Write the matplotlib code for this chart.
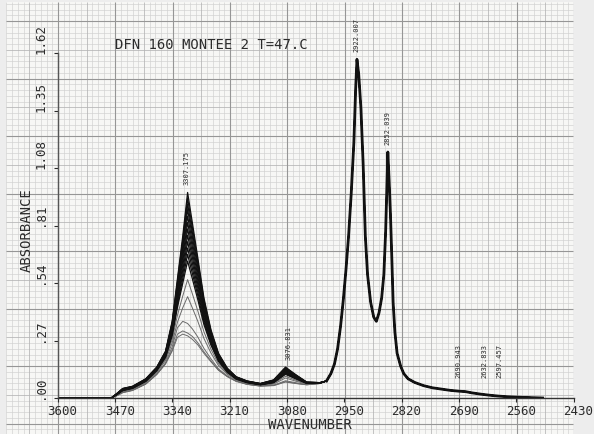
import numpy as np
import matplotlib
matplotlib.use("Agg")
import matplotlib.pyplot as plt
from matplotlib.transforms import ScaledTranslation

plt.rcParams['font.family'] = ['DejaVu Sans Mono']

# flat start of every scan
WN_BASE = [3600, 3478]
ABS_BASE = [0.0, 0.0]

# O-H / =C-H region, changes from scan to scan
WN_OH = [3466, 3452, 3430, 3400, 3375, 3355, 3340, 3328, 3316, 3305, 3294, 3282,
         3268, 3252, 3235, 3215, 3195, 3170, 3140, 3110, 3083, 3060, 3035, 3005]

ABS_OH = [
 [0.020,0.045,0.055,0.090,0.145,0.220,0.360,0.560,0.760,0.965,0.820,0.660,0.470,0.320,0.210,0.140,0.100,0.080,0.068,0.085,0.145,0.110,0.075,0.072],
 [0.020,0.044,0.054,0.089,0.144,0.218,0.354,0.549,0.742,0.938,0.798,0.644,0.460,0.314,0.207,0.138,0.099,0.079,0.068,0.084,0.142,0.108,0.074,0.072],
 [0.019,0.043,0.053,0.088,0.142,0.215,0.349,0.538,0.723,0.911,0.776,0.627,0.449,0.308,0.204,0.137,0.098,0.079,0.067,0.083,0.139,0.107,0.074,0.072],
 [0.019,0.043,0.053,0.087,0.141,0.213,0.343,0.526,0.705,0.885,0.755,0.611,0.439,0.302,0.200,0.135,0.097,0.078,0.067,0.082,0.137,0.105,0.073,0.072],
 [0.018,0.042,0.052,0.086,0.139,0.210,0.337,0.514,0.684,0.854,0.730,0.592,0.427,0.295,0.197,0.133,0.096,0.077,0.066,0.081,0.133,0.103,0.073,0.071],
 [0.018,0.041,0.051,0.085,0.138,0.207,0.331,0.501,0.663,0.824,0.706,0.574,0.415,0.289,0.193,0.132,0.095,0.077,0.065,0.079,0.130,0.101,0.072,0.071],
 [0.017,0.040,0.050,0.084,0.136,0.205,0.324,0.489,0.643,0.794,0.681,0.555,0.404,0.282,0.190,0.130,0.094,0.076,0.065,0.078,0.127,0.099,0.072,0.071],
 [0.017,0.039,0.049,0.083,0.135,0.202,0.318,0.476,0.622,0.764,0.657,0.537,0.392,0.275,0.186,0.128,0.093,0.075,0.064,0.077,0.124,0.097,0.071,0.071],
 [0.017,0.038,0.048,0.081,0.133,0.199,0.312,0.463,0.601,0.734,0.632,0.519,0.380,0.268,0.182,0.126,0.092,0.074,0.064,0.076,0.121,0.096,0.071,0.071],
 [0.016,0.037,0.047,0.080,0.131,0.197,0.305,0.451,0.581,0.704,0.607,0.500,0.369,0.262,0.179,0.124,0.091,0.074,0.063,0.074,0.118,0.094,0.070,0.070],
 [0.016,0.036,0.046,0.079,0.130,0.194,0.299,0.438,0.560,0.674,0.583,0.482,0.357,0.255,0.175,0.123,0.090,0.073,0.063,0.073,0.115,0.092,0.069,0.070],
 [0.015,0.035,0.045,0.078,0.128,0.191,0.293,0.426,0.539,0.643,0.558,0.463,0.345,0.248,0.172,0.121,0.089,0.072,0.062,0.072,0.111,0.090,0.069,0.070],
 [0.014,0.033,0.043,0.075,0.124,0.183,0.275,0.389,0.479,0.556,0.488,0.410,0.311,0.229,0.161,0.116,0.087,0.070,0.061,0.069,0.102,0.084,0.067,0.070],
 [0.013,0.030,0.040,0.072,0.119,0.176,0.258,0.356,0.424,0.476,0.422,0.361,0.280,0.211,0.152,0.111,0.084,0.068,0.059,0.065,0.094,0.079,0.066,0.069],
 [0.011,0.027,0.037,0.067,0.113,0.165,0.240,0.330,0.360,0.350,0.324,0.287,0.233,0.184,0.137,0.104,0.080,0.065,0.057,0.060,0.081,0.072,0.063,0.068],
 [0.010,0.026,0.036,0.066,0.111,0.162,0.226,0.300,0.315,0.305,0.289,0.260,0.217,0.174,0.132,0.101,0.079,0.064,0.056,0.059,0.077,0.069,0.062,0.068],
 [0.010,0.025,0.035,0.065,0.110,0.160,0.220,0.285,0.300,0.292,0.275,0.250,0.210,0.170,0.130,0.100,0.078,0.064,0.056,0.058,0.075,0.068,0.062,0.068],
]
N_DARK = 12  # first scans drawn black, later ones grey

# C-H stretch region, same for all scans
WN_CH = [2990, 2980, 2972, 2965, 2958, 2952, 2946, 2940, 2934, 2928, 2924, 2921, 2917,
         2912, 2907, 2902, 2897, 2890, 2883, 2877, 2871, 2865, 2860, 2856, 2853, 2851,
         2848, 2845, 2842, 2839, 2835, 2830, 2822, 2815, 2805, 2790, 2770, 2750, 2730,
         2710, 2690, 2675, 2660, 2640, 2620, 2600, 2580, 2560, 2530, 2500]
ABS_CH = [0.080, 0.115, 0.160, 0.230, 0.340, 0.460, 0.600, 0.760, 0.960, 1.200, 1.450, 1.590, 1.520,
          1.360, 1.100, 0.760, 0.580, 0.450, 0.380, 0.360, 0.400, 0.470, 0.580, 0.780, 1.000, 1.155,
          1.020, 0.860, 0.660, 0.450, 0.310, 0.210, 0.150, 0.115, 0.090, 0.073, 0.058, 0.048, 0.042,
          0.036, 0.032, 0.030, 0.024, 0.018, 0.013, 0.009, 0.006, 0.004, 0.002, 0.0]

XTICKS = [3600, 3470, 3340, 3210, 3080, 2950, 2820, 2690, 2560, 2430]
YTICKS = [0.0, 0.27, 0.54, 0.81, 1.08, 1.35, 1.62]
YLABELS = ['.00', '.27', '.54', '.81', '1.08', '1.35', '1.62']

BIG_PEAKS = [(3307.175, '3307.175'), (3076.831, '3076.831'),
             (2922.007, '2922.007'), (2852.039, '2852.039')]
SMALL_PEAKS = [(2690.943, '2690.943'), (2632.833, '2632.833'), (2597.457, '2597.457')]

TXT = '#2b2b2b'

fig = plt.figure(figsize=(5.94, 4.35), dpi=100)
fig.patch.set_facecolor('#ededed')

# graph paper, in pixel units
bg = fig.add_axes([0, 0, 1, 1])
bg.set_xlim(0, 594)
bg.set_ylim(435, 0)
bg.axis('off')
bg.add_patch(plt.Rectangle((6, 3), 567, 432, color='#f7f7f5', lw=0))

sx = 57.33 / 10
idx = np.arange(-9, 91)
xs = 58 + sx * idx
keep = (xs >= 6) & (xs <= 573)
idx, xs = idx[keep], xs[keep]
sy = 57.5 / 10
jdx = np.arange(-3, 72)
ys = 22 + sy * jdx
keep = (ys >= 3) & (ys <= 435)
jdx, ys = jdx[keep], ys[keep]

for sel, col, lw in [(lambda k: k % 5 != 0, '#d0d0d0', 0.45),
                     (lambda k: (k % 5 == 0) & (k % 10 != 0), '#b4b4b4', 0.55),
                     (lambda k: k % 10 == 0, '#969696', 0.8)]:
    bg.vlines(xs[sel(idx)], 3, 435, colors=col, lw=lw)
    bg.hlines(ys[sel(jdx)], 6, 573, colors=col, lw=lw)

bg.text(115, 45, 'DFN 160 MONTEE 2 T=47.C', fontsize=10, color=TXT, va='center', ha='left')
bg.text(27, 230, 'ABSORBANCE', fontsize=10, color=TXT, rotation=90, va='center', ha='center')
bg.text(310, 425, 'WAVENUMBER', fontsize=10, color=TXT, va='center', ha='center')

# spectrum axes
ax = fig.add_axes([57.5 / 594, 36 / 435, 516 / 594, 345 / 435])
ax.patch.set_visible(False)
ax.set_xlim(3600, 2430)
ax.set_ylim(0, 1.62)
ax.spines['top'].set_visible(False)
ax.spines['right'].set_visible(False)
ax.spines['left'].set_color('#555555')
ax.spines['bottom'].set_color('#333333')
ax.spines['left'].set_linewidth(1.0)
ax.spines['bottom'].set_linewidth(1.0)

ax.set_xticks(XTICKS)
ax.set_xticklabels([str(t) for t in XTICKS])
ax.tick_params(axis='x', direction='out', length=3, width=0.8, pad=1.0,
               labelsize=9, colors=TXT)
shift = ScaledTranslation(5 / 100, 0, fig.dpi_scale_trans)
for lab in ax.get_xticklabels():
    lab.set_transform(lab.get_transform() + shift)

ax.set_yticks(YTICKS)
ax.set_yticklabels(YLABELS, rotation=90, va='bottom', ha='center')
ax.tick_params(axis='y', direction='out', length=3, width=0.8, pad=9,
               labelsize=9, colors=TXT)

curves = []
for row in ABS_OH:
    wn = np.array(WN_BASE + WN_OH + WN_CH)
    a = np.array(ABS_BASE + row + ABS_CH)
    curves.append((wn, a))

for i in range(len(curves) - 1, -1, -1):
    wn, a = curves[i]
    col = '#111111' if i < N_DARK else '#6a6a6a'
    ax.plot(wn, a, color=col, lw=0.9 if i < N_DARK else 0.7, solid_joinstyle='round')
# overlapping scans make the C-H part thicker
ax.plot(WN_CH, ABS_CH, color='#111111', lw=2.0, solid_joinstyle='round')

top_wn, top_a = curves[0]
for wn, txt in BIG_PEAKS:
    near = np.abs(top_wn - wn) <= 10
    yv = top_a[near].max()
    ax.annotate(txt, xy=(wn, yv), xytext=(0, 6), textcoords='offset points',
                rotation=90, ha='center', va='bottom', fontsize=5, color=TXT)
for wn, txt in SMALL_PEAKS:
    ax.text(wn, 0.098, txt, rotation=90, ha='center', va='bottom', fontsize=5, color=TXT)

fig.savefig('out.png', dpi=100)
